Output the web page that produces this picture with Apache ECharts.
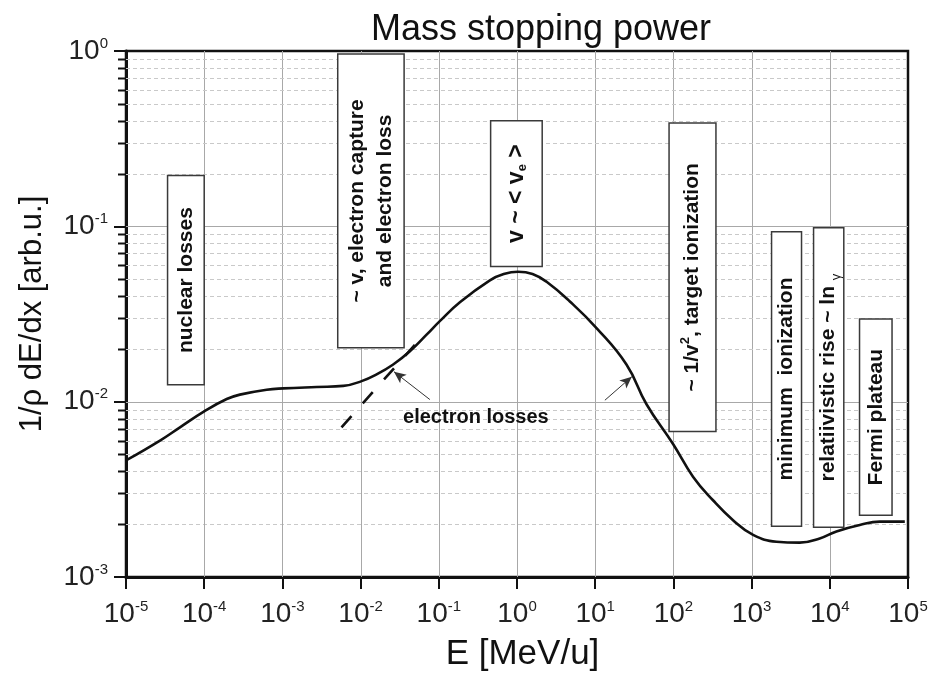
<!DOCTYPE html>
<html>
<head>
<meta charset="utf-8">
<script src="https://cdn.jsdelivr.net/npm/echarts@6/dist/echarts.min.js"></script>
<style>
  html, body { margin: 0; padding: 0; background: #fff; }
  #chart { width: 937px; height: 677px; }
</style>
</head>
<body>
<div id="chart"></div>
<script>
// Mass stopping power curve: energy (MeV/u) and 1/rho dE/dx (arb. units)
const energy = [1e-5, 2.72e-5, 4.9e-5, 1e-4, 1.94e-4, 2.86e-4, 6.3e-4, 1.03e-3, 2.74e-3, 6.0e-3,
  0.0103, 0.016, 0.0261, 0.0427, 0.0698, 0.103, 0.186, 0.45, 0.676, 1.03, 1.58, 2.39, 4.74, 10.4,
  25.1, 45.3, 99, 179, 321, 579, 1045, 2080, 4130, 7430, 12160, 24150, 43500, 91000];
const stopping = [4.62e-3, 6.0e-3, 7.14e-3, 8.8e-3, 0.01035, 0.01097, 0.0117, 0.0119, 0.01213, 0.0123,
  0.0131, 0.0143, 0.0163, 0.0194, 0.0241, 0.0288, 0.0369, 0.0492, 0.0534, 0.0551, 0.0535, 0.0483, 0.0373, 0.0263,
  0.0163, 9.67e-3, 5.74e-3, 3.72e-3, 2.74e-3, 2.11e-3, 1.74e-3, 1.59e-3, 1.57e-3, 1.66e-3, 1.82e-3, 1.98e-3, 2.07e-3, 2.07e-3];

// Electron-loss contribution (dashed, ~ sqrt(E))
const electronEnergy = [5.7e-3, 0.0494];
const electronStopping = [7.14e-3, 0.0211];

// Arrows pointing at the electron-loss parts: [from, to] in (E, S)
const arrowEnergy = [[0.0769, 0.0267], [13.3, 29.4]];
const arrowStopping = [[0.01028, 0.01482], [0.01019, 0.01388]];
const noteText = 'electron losses';
const notePoint = [0.298, 8.13e-3];

// Labelled regions: energy span, stopping span, text
const regionEnergy = [[3.4e-5, 1e-4], [5.1e-3, 0.036], [0.46, 2.1], [88, 350], [1800, 4350], [6200, 15100], [24000, 62500]];
const regionStopping = [[0.0125, 0.195], [0.0203, 0.96], [0.059, 0.40], [6.75e-3, 0.388], [1.95e-3, 0.093], [1.92e-3, 0.098], [2.25e-3, 0.0296]];
const regionText = [
  'nuclear losses',
  '~ v, electron capture\nand electron loss',
  '{big|v ~ < v}{sub|e}{big| >}',
  '~ 1/v{sup|2}, target ionization',
  'minimum  ionization',
  'relatiivistic rise ~ ln {g|\u03b3}',
  'Fermi plateau'
];

// Axis decades and minor grid values
const xTickPowers = [-5, -4, -3, -2, -1, 0, 1, 2, 3, 4, 5];
const yTickPowers = [-3, -2, -1, 0];
const xDecades = [1e-5, 1e-4, 1e-3, 1e-2, 1e-1, 1, 10, 100, 1e3, 1e4, 1e5];
const yDecades = [1e-3, 1e-2, 1e-1, 1];
const yMinorGrid = [0.002, 0.003, 0.004, 0.005, 0.006, 0.007, 0.008, 0.009,
  0.02, 0.03, 0.04, 0.05, 0.06, 0.07, 0.08, 0.09,
  0.2, 0.3, 0.4, 0.5, 0.6, 0.7, 0.8, 0.9];

const FONT = '"Liberation Sans", Arial, Helvetica, sans-serif';

function powerLabel(powers) {
  return function (v) {
    const p = Math.round(Math.log10(v));
    return powers.indexOf(p) >= 0 ? '{b|10}{s|' + p + '}' : '';
  };
}
const tickRich = {
  b: { fontSize: 28, fontFamily: FONT, color: '#222', lineHeight: 30 },
  s: { fontSize: 15, fontFamily: FONT, color: '#222', lineHeight: 14, verticalAlign: 'top' }
};

const chart = echarts.init(document.getElementById('chart'), null, { renderer: 'canvas' });

const option = {
  animation: false,
  backgroundColor: '#fff',
  title: {
    text: 'Mass stopping power',
    left: 536, top: 7, textAlign: 'center',
    textStyle: { fontSize: 36, fontWeight: 'normal', fontFamily: FONT, color: '#111' }
  },
  grid: {
    left: 126, right: 29, top: 51, bottom: 96,
    show: true, borderColor: '#111', borderWidth: 2.5, backgroundColor: 'transparent'
  },
  xAxis: {
    type: 'log', logBase: 10, min: 1e-5, max: 1e5, interval: 1, splitNumber: 10,
    name: 'E [MeV/u]', nameLocation: 'middle', nameGap: 60,
    nameTextStyle: { fontSize: 35, fontFamily: FONT, color: '#111', padding: [0, 0, 0, 11] },
    axisLine: { onZero: false, lineStyle: { color: '#111', width: 3 } },
    axisTick: { show: true, inside: false, length: 12, customValues: xDecades, lineStyle: { color: '#111', width: 2 } },
    axisLabel: { margin: 22, customValues: xDecades, formatter: powerLabel(xTickPowers), rich: tickRich },
    splitLine: { show: false }
  },
  yAxis: {
    type: 'log', logBase: 10, min: 1e-3, max: 1, interval: 1, splitNumber: 3,
    name: '1/\u03c1 dE/dx [arb.u.]', nameLocation: 'middle', nameGap: 78,
    nameTextStyle: { fontSize: 31, fontFamily: FONT, color: '#111' },
    axisLine: { onZero: false, lineStyle: { color: '#111', width: 3 } },
    axisTick: { show: true, inside: false, length: 12, customValues: yDecades, lineStyle: { color: '#111', width: 2 } },
    axisLabel: { margin: 18, customValues: yDecades, formatter: powerLabel(yTickPowers), rich: tickRich },
    splitLine: { show: false }
  },
  series: [
    {
      // decade grid lines, minor horizontal grid (2..9 per decade) and outward minor ticks
      type: 'custom', z: 1, silent: true, clip: false,
      data: yMinorGrid.map(v => [1, v]),
      renderItem: function (params, api) {
        const cs = params.coordSys;
        const y = Math.round(api.coord([1, api.value(1)])[1]) + 0.5;
        const children = [
          { type: 'line', shape: { x1: cs.x, y1: y, x2: cs.x + cs.width, y2: y },
            style: { stroke: '#c9c9c9', lineWidth: 1, lineDash: [4, 3] } },
          { type: 'line', shape: { x1: cs.x - 8, y1: y, x2: cs.x, y2: y },
            style: { stroke: '#111', lineWidth: 2 } }
        ];
        if (params.dataIndex === 0) {
          xDecades.slice(1, -1).forEach(function (d) {
            const x = Math.round(api.coord([d, 1])[0]) + 0.5;
            children.push({ type: 'line', shape: { x1: x, y1: cs.y, x2: x, y2: cs.y + cs.height },
              style: { stroke: '#a8a8a8', lineWidth: 1 } });
          });
          yDecades.slice(1, -1).forEach(function (d) {
            const yy = Math.round(api.coord([1, d])[1]) + 0.5;
            children.push({ type: 'line', shape: { x1: cs.x, y1: yy, x2: cs.x + cs.width, y2: yy },
              style: { stroke: '#a8a8a8', lineWidth: 1 } });
          });
        }
        return { type: 'group', children: children };
      }
    },
    {
      name: 'stopping power', type: 'line', z: 4,
      data: energy.map((e, i) => [e, stopping[i]]),
      showSymbol: false, smooth: 0.45,
      lineStyle: { color: '#111', width: 2.6 }
    },
    {
      name: 'electron losses', type: 'line', z: 4,
      data: electronEnergy.map((e, i) => [e, electronStopping[i]]),
      showSymbol: false,
      lineStyle: { color: '#111', width: 2.6, type: [15, 17] },
      markLine: {
        silent: true, animation: false,
        symbol: ['none', 'arrow'], symbolSize: [8, 12],
        label: { show: false },
        lineStyle: { color: '#333', width: 1, type: 'solid' },
        data: arrowEnergy.map((ea, i) => [
          { coord: [ea[0], arrowStopping[i][0]] },
          { coord: [ea[1], arrowStopping[i][1]] }
        ])
      }
    },
    {
      // labelled regions
      type: 'custom', z: 5, silent: true, clip: false,
      data: regionEnergy.map((e, i) => [e[0], e[1], regionStopping[i][0], regionStopping[i][1], i]),
      renderItem: function (params, api) {
        const p0 = api.coord([api.value(0), api.value(3)]);
        const p1 = api.coord([api.value(1), api.value(2)]);
        const idx = api.value(4);
        const cx = (p0[0] + p1[0]) / 2, cy = (p0[1] + p1[1]) / 2;
        return {
          type: 'group',
          children: [
            { type: 'rect', shape: { x: p0[0], y: p0[1], width: p1[0] - p0[0], height: p1[1] - p0[1] },
              style: { fill: '#fff', stroke: '#3a3a3a', lineWidth: 1.5 } },
            { type: 'text', x: cx, y: cy, rotation: Math.PI / 2,
              style: {
                text: regionText[idx], x: 0, y: 0,
                fill: '#111', fontSize: 21, fontWeight: 'bold', fontFamily: FONT,
                align: 'center', verticalAlign: 'middle', lineHeight: 28,
                rich: {
                  big: { fontSize: 23, fontWeight: 'bold', fontFamily: FONT, fill: '#111', lineHeight: 26 },
                  sub: { fontSize: 13, fontWeight: 'bold', fontFamily: FONT, fill: '#111', lineHeight: 10, verticalAlign: 'bottom' },
                  sup: { fontSize: 13, fontWeight: 'bold', fontFamily: FONT, fill: '#111', lineHeight: 12, verticalAlign: 'top' },
                  g: { fontSize: 13, fontWeight: 'normal', fontFamily: FONT, fill: '#111', lineHeight: 10, verticalAlign: 'bottom' }
                }
              } }
          ]
        };
      }
    },
    {
      type: 'custom', z: 5, silent: true, clip: false,
      data: [notePoint],
      renderItem: function (params, api) {
        const p = api.coord([api.value(0), api.value(1)]);
        return { type: 'text', x: p[0], y: p[1],
          style: { text: noteText, fill: '#111', fontSize: 20, fontWeight: 'bold', fontFamily: FONT,
            align: 'center', verticalAlign: 'middle' } };
      }
    }
  ]
};

chart.setOption(option);
</script>
</body>
</html>
